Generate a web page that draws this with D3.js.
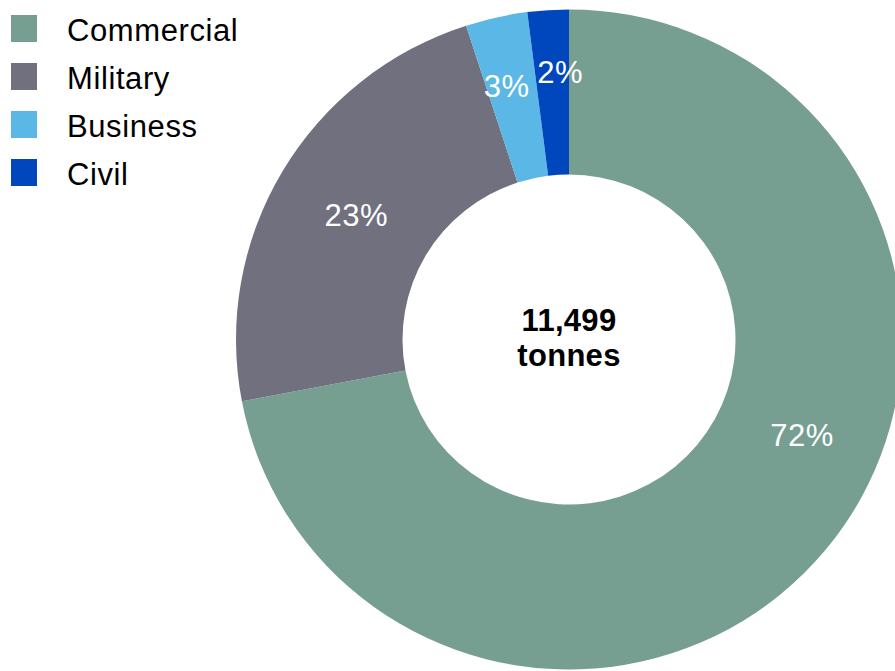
<!DOCTYPE html>
<html>
<head>
<meta charset="utf-8">
<script src="https://cdn.jsdelivr.net/npm/d3@7"></script>
<style>
  html, body { margin: 0; padding: 0; background: #fff; }
  svg { display: block; font-family: "Liberation Sans", Arial, Helvetica, sans-serif; }
</style>
</head>
<body>
<svg id="chart" width="895" height="671"></svg>
<script>
// Share of total tonnage by aircraft segment (percent)
const categories = ["Commercial", "Military", "Business", "Civil"];
const shares = [72, 23, 3, 2];
const colors = ["#769e91", "#71707f", "#5bb7e6", "#0047bd"];
const totalLabel = ["11,499", "tonnes"];

const svg = d3.select("#chart");

// Ring geometry
const cx = 569, cy = 339.5;
const outerR = 330, innerR = 165;
const sx = 333 / 330; // slight horizontal stretch of the ring

const data = categories.map((c, i) => ({ name: c, value: shares[i], color: colors[i] }));

const pie = d3.pie()
  .value(d => d.value)
  .sort(null)
  .startAngle(0)
  .endAngle(2 * Math.PI);

const arcs = pie(data);

const arc = d3.arc().innerRadius(innerR).outerRadius(outerR);

const ring = svg.append("g")
  .attr("transform", `translate(${cx},${cy}) scale(${sx},1)`);

ring.selectAll("path")
  .data(arcs)
  .join("path")
  .attr("d", arc)
  .attr("fill", d => d.data.color);

// Percentage labels: placed around the middle of the band, narrow slices
// pushed outward and the large slice label moved toward the right side.
const labelPlacement = {
  Commercial: { angleFrac: 0.434, radius: 250 },
  Military:   { angleFrac: 0.5,   radius: 245 },
  Business:   { angleFrac: 0.40,  radius: 261 },
  Civil:      { angleFrac: 0.74,  radius: 268 }
};

function labelAngle(d) {
  const p = labelPlacement[d.data.name];
  return d.startAngle + (d.endAngle - d.startAngle) * p.angleFrac;
}

svg.append("g")
  .selectAll("text")
  .data(arcs)
  .join("text")
  .attr("x", d => cx + Math.sin(labelAngle(d)) * labelPlacement[d.data.name].radius * sx)
  .attr("y", d => cy - Math.cos(labelAngle(d)) * labelPlacement[d.data.name].radius + 11)
  .attr("text-anchor", "middle")
  .attr("fill", "#ffffff")
  .attr("font-size", 31)
  .attr("letter-spacing", 0.5)
  .text(d => `${d.data.value}%`);

// Centre total
svg.append("g")
  .selectAll("text")
  .data(totalLabel)
  .join("text")
  .attr("x", cx)
  .attr("y", (d, i) => 331 + i * 35)
  .attr("text-anchor", "middle")
  .attr("font-weight", "bold")
  .attr("font-size", 31)
  .attr("letter-spacing", 0.3)
  .attr("fill", "#000")
  .text(d => d);

// Legend
const rows = svg.append("g")
  .selectAll("g")
  .data(data)
  .join("g")
  .attr("transform", (d, i) => `translate(11,${15 + i * 48})`);

rows.append("rect")
  .attr("width", 26)
  .attr("height", 27)
  .attr("fill", d => d.color);

rows.append("text")
  .attr("x", 56)
  .attr("y", 26)
  .attr("font-size", 31)
  .attr("letter-spacing", 0.6)
  .attr("fill", "#000")
  .text(d => d.name);
</script>
</body>
</html>
